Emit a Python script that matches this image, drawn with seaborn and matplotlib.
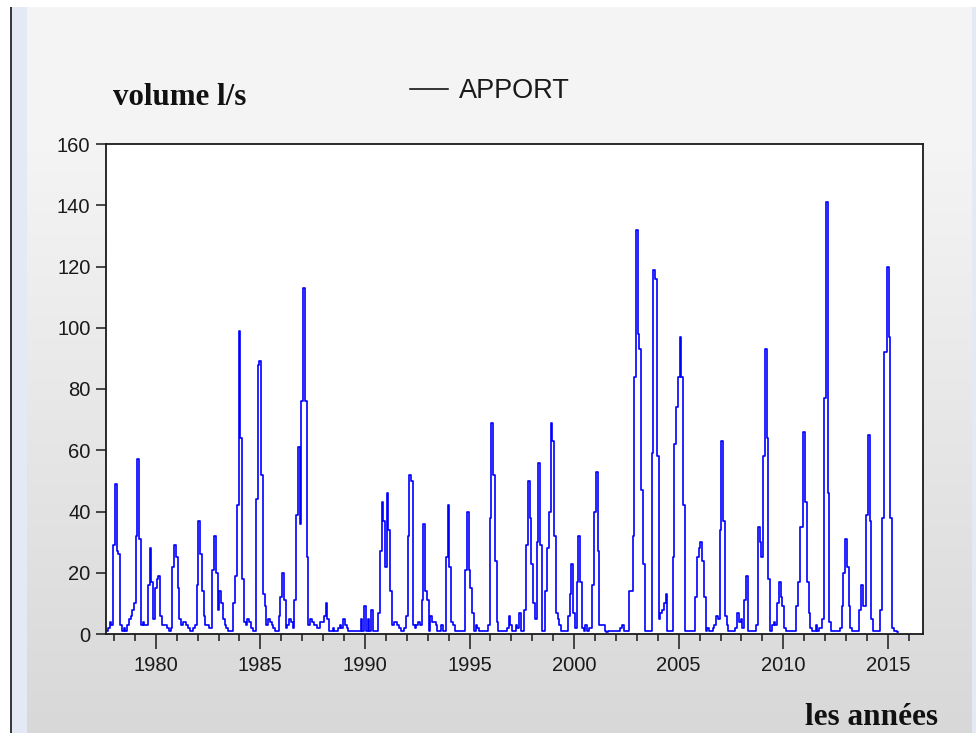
import numpy as np
import pandas as pd
import matplotlib
matplotlib.use("Agg")
import matplotlib.pyplot as plt
from matplotlib.lines import Line2D
from matplotlib.patches import Rectangle
import seaborn as sns

# ---------------- data (monthly APPORT, l/s) ----------------
start_year, start_month = 1977, 9   # first observation: Sep 1977

apport_1977_1986 = [
    1, 2, 4, 3,                                   # 1977 Sep-Dec
    29, 49, 27, 26, 3, 1, 2, 1, 3, 5, 6, 8,       # 1978
    10, 32, 57, 31, 3, 4, 3, 3, 16, 28, 17, 5,    # 1979
    15, 18, 19, 6, 3, 3, 3, 2, 1, 2, 22, 29,      # 1980
    25, 15, 5, 3, 4, 4, 3, 2, 1, 1, 2, 3,         # 1981
    16, 37, 26, 14, 6, 3, 3, 2, 2, 21, 32, 20,    # 1982
    8, 14, 10, 5, 3, 2, 1, 1, 1, 10, 19, 42,      # 1983
    99, 64, 18, 4, 3, 5, 4, 2, 1, 1, 44, 88,      # 1984
    89, 52, 13, 9, 3, 5, 4, 3, 2, 1, 1, 6,        # 1985
    12, 20, 11, 2, 3, 5, 4, 2, 11, 39, 61, 36,    # 1986
]
apport_1987_1996 = [
    76, 113, 76, 25, 3, 5, 4, 3, 3, 2, 2, 4,      # 1987
    4, 6, 10, 5, 1, 1, 2, 1, 1, 2, 3, 2,          # 1988
    5, 3, 2, 1, 1, 1, 1, 1, 1, 1, 5, 1,           # 1989
    9, 1, 5, 1, 8, 1, 1, 1, 7, 27, 43, 37,        # 1990
    22, 46, 34, 14, 3, 4, 4, 3, 2, 1, 1, 2,       # 1991
    6, 32, 52, 50, 3, 2, 3, 4, 3, 11, 36, 14,     # 1992
    11, 1, 6, 4, 4, 3, 1, 1, 3, 1, 1, 25,         # 1993
    42, 22, 4, 3, 1, 1, 1, 1, 1, 1, 21, 40,       # 1994
    21, 15, 7, 1, 3, 2, 1, 1, 1, 1, 1, 3,         # 1995
    38, 69, 52, 24, 4, 1, 1, 1, 1, 1, 2, 6,       # 1996
]
apport_1997_2006 = [
    3, 1, 1, 3, 2, 7, 1, 1, 8, 29, 50, 38,        # 1997
    23, 10, 5, 30, 56, 29, 1, 1, 14, 28, 40, 69,  # 1998
    63, 32, 7, 5, 3, 1, 1, 1, 1, 6, 13, 23,       # 1999
    7, 2, 17, 32, 17, 2, 1, 3, 1, 2, 2, 16,       # 2000
    40, 53, 27, 3, 3, 3, 1, 0.5, 1, 1, 1, 1,      # 2001
    1, 1, 1, 2, 3, 1, 1, 1, 14, 14, 32, 84,       # 2002
    132, 98, 93, 47, 23, 1, 1, 1, 1, 59, 119, 116,  # 2003
    58, 5, 7, 8, 10, 13, 1, 1, 1, 25, 62, 74,     # 2004
    84, 97, 84, 42, 1, 1, 1, 1, 1, 1, 12, 25,     # 2005
    28, 30, 24, 12, 1, 2, 1, 1, 2, 3, 6, 5,       # 2006
]
apport_2007_2015 = [
    34, 63, 37, 6, 3, 1, 1, 1, 1, 2, 7, 4,        # 2007
    5, 2, 11, 19, 1, 1, 1, 1, 1, 3, 35, 30,       # 2008
    25, 58, 93, 64, 18, 1, 3, 4, 3, 10, 17, 12,   # 2009
    9, 2, 1, 1, 1, 1, 1, 1, 9, 17, 35, 35,        # 2010
    66, 43, 17, 7, 2, 1, 1, 3, 1, 2, 2, 5,        # 2011
    77, 141, 46, 4, 1, 1, 1, 1, 1, 2, 9, 20,      # 2012
    31, 22, 9, 2, 1, 1, 1, 1, 8, 16, 9, 9,        # 2013
    39, 65, 37, 5, 1, 1, 1, 1, 8, 38, 92, 92,     # 2014
    120, 97, 38, 2, 1, 1, 0.5,                    # 2015 Jan-Jul
]

x_major = [1980, 1985, 1990, 1995, 2000, 2005, 2010, 2015]
y_ticks = [0, 20, 40, 60, 80, 100, 120, 140, 160]
series_name = "APPORT"
y_title = "volume l/s"
x_title = "les années"

# ---------------- build frame ----------------
values = apport_1977_1986 + apport_1987_1996 + apport_1997_2006 + apport_2007_2015
n = len(values)
months_index = np.arange(n) + (start_month - 1)
dates = start_year + months_index / 12.0
df = pd.DataFrame({"date": dates, series_name: values})

# ---------------- figure ----------------
W, H = 976, 733
fig = plt.figure(figsize=(W / 100, H / 100), dpi=100)
fig.patch.set_facecolor("white")

# background gradient (screenshot window look)
bg = fig.add_axes([0, 0, 1, 1], zorder=-10)
ypix = np.arange(H)
shade = np.where(ypix < 150, 244, 244 - (ypix - 150) * (28 / (H - 150)))
img = np.repeat(shade[:, None], 4, axis=1) / 255.0
bg.imshow(np.dstack([img, img, img]), aspect="auto", extent=[0, 1, 0, 1],
          origin="upper")
bg.set_xlim(0, 1)
bg.set_ylim(0, 1)
bg.axis("off")


def fig_rect(x0, y0, x1, y1, color):
    fig.patches.append(Rectangle((x0 / W, 1 - y1 / H), (x1 - x0) / W, (y1 - y0) / H,
                                 transform=fig.transFigure, color=color, zorder=-5,
                                 lw=0))


fig_rect(0, 0, W, 7, "white")
fig_rect(0, 0, 10, H, "white")
fig_rect(10, 7, 12, H, "#3a3a3a")
fig_rect(12, 7, 27, H, "#e4eaf5")
fig_rect(972, 7, W, H, "#e4eaf5")

ax_l, ax_r, ax_t, ax_b = 106, 923, 144, 634
ax = fig.add_axes([ax_l / W, 1 - ax_b / H, (ax_r - ax_l) / W, (ax_b - ax_t) / H])
ax.set_facecolor("white")

sns.lineplot(data=df, x="date", y=series_name, ax=ax, color="#0000ff",
             linewidth=1.2, legend=False, drawstyle="steps-mid")

ax.set_xlim(1977.62, 2016.68)
ax.set_ylim(0, 160)
ax.set_xticks(x_major)
ax.set_xticklabels([str(v) for v in x_major])
ax.set_xticks(np.arange(1978, 2017), minor=True)
ax.set_yticks(y_ticks)
ax.set_yticklabels([str(v) for v in y_ticks])
ax.set_xlabel("")
ax.set_ylabel("")

for lab in ax.get_xticklabels() + ax.get_yticklabels():
    lab.set_fontfamily("Liberation Sans")
    lab.set_fontsize(14.5)
    lab.set_color("#1a1a1a")

ax.tick_params(axis="x", which="major", direction="out", length=10.5, width=1.1,
               color="#1a1a1a", pad=5)
ax.tick_params(axis="x", which="minor", direction="out", length=5.2, width=1.1,
               color="#1a1a1a")
ax.tick_params(axis="y", which="major", direction="out", length=7.2, width=1.1,
               color="#1a1a1a", pad=4)
for sp in ax.spines.values():
    sp.set_color("#1a1a1a")
    sp.set_linewidth(1.3)

# legend (black handle as in the original)
leg = ax.legend(handles=[Line2D([0], [0], color="black", lw=1.1)], labels=[series_name],
                loc="center left", bbox_to_anchor=(410 / W, 1 - 91 / H),
                bbox_transform=fig.transFigure, frameon=False,
                prop={"family": "Liberation Sans", "size": 19.5},
                handlelength=1.4, handletextpad=0.42, borderpad=0, borderaxespad=0)
for t in leg.get_texts():
    t.set_color("#1a1a1a")

fig.text(113 / W, 1 - 105 / H, y_title, family="Liberation Serif", weight="bold",
         size=22.3, color="#111111", ha="left", va="baseline")
fig.text(938 / W, 1 - 725 / H, x_title, family="Liberation Serif", weight="bold",
         size=22.5, color="#111111", ha="right", va="baseline")

fig.savefig("out.png", dpi=100)
